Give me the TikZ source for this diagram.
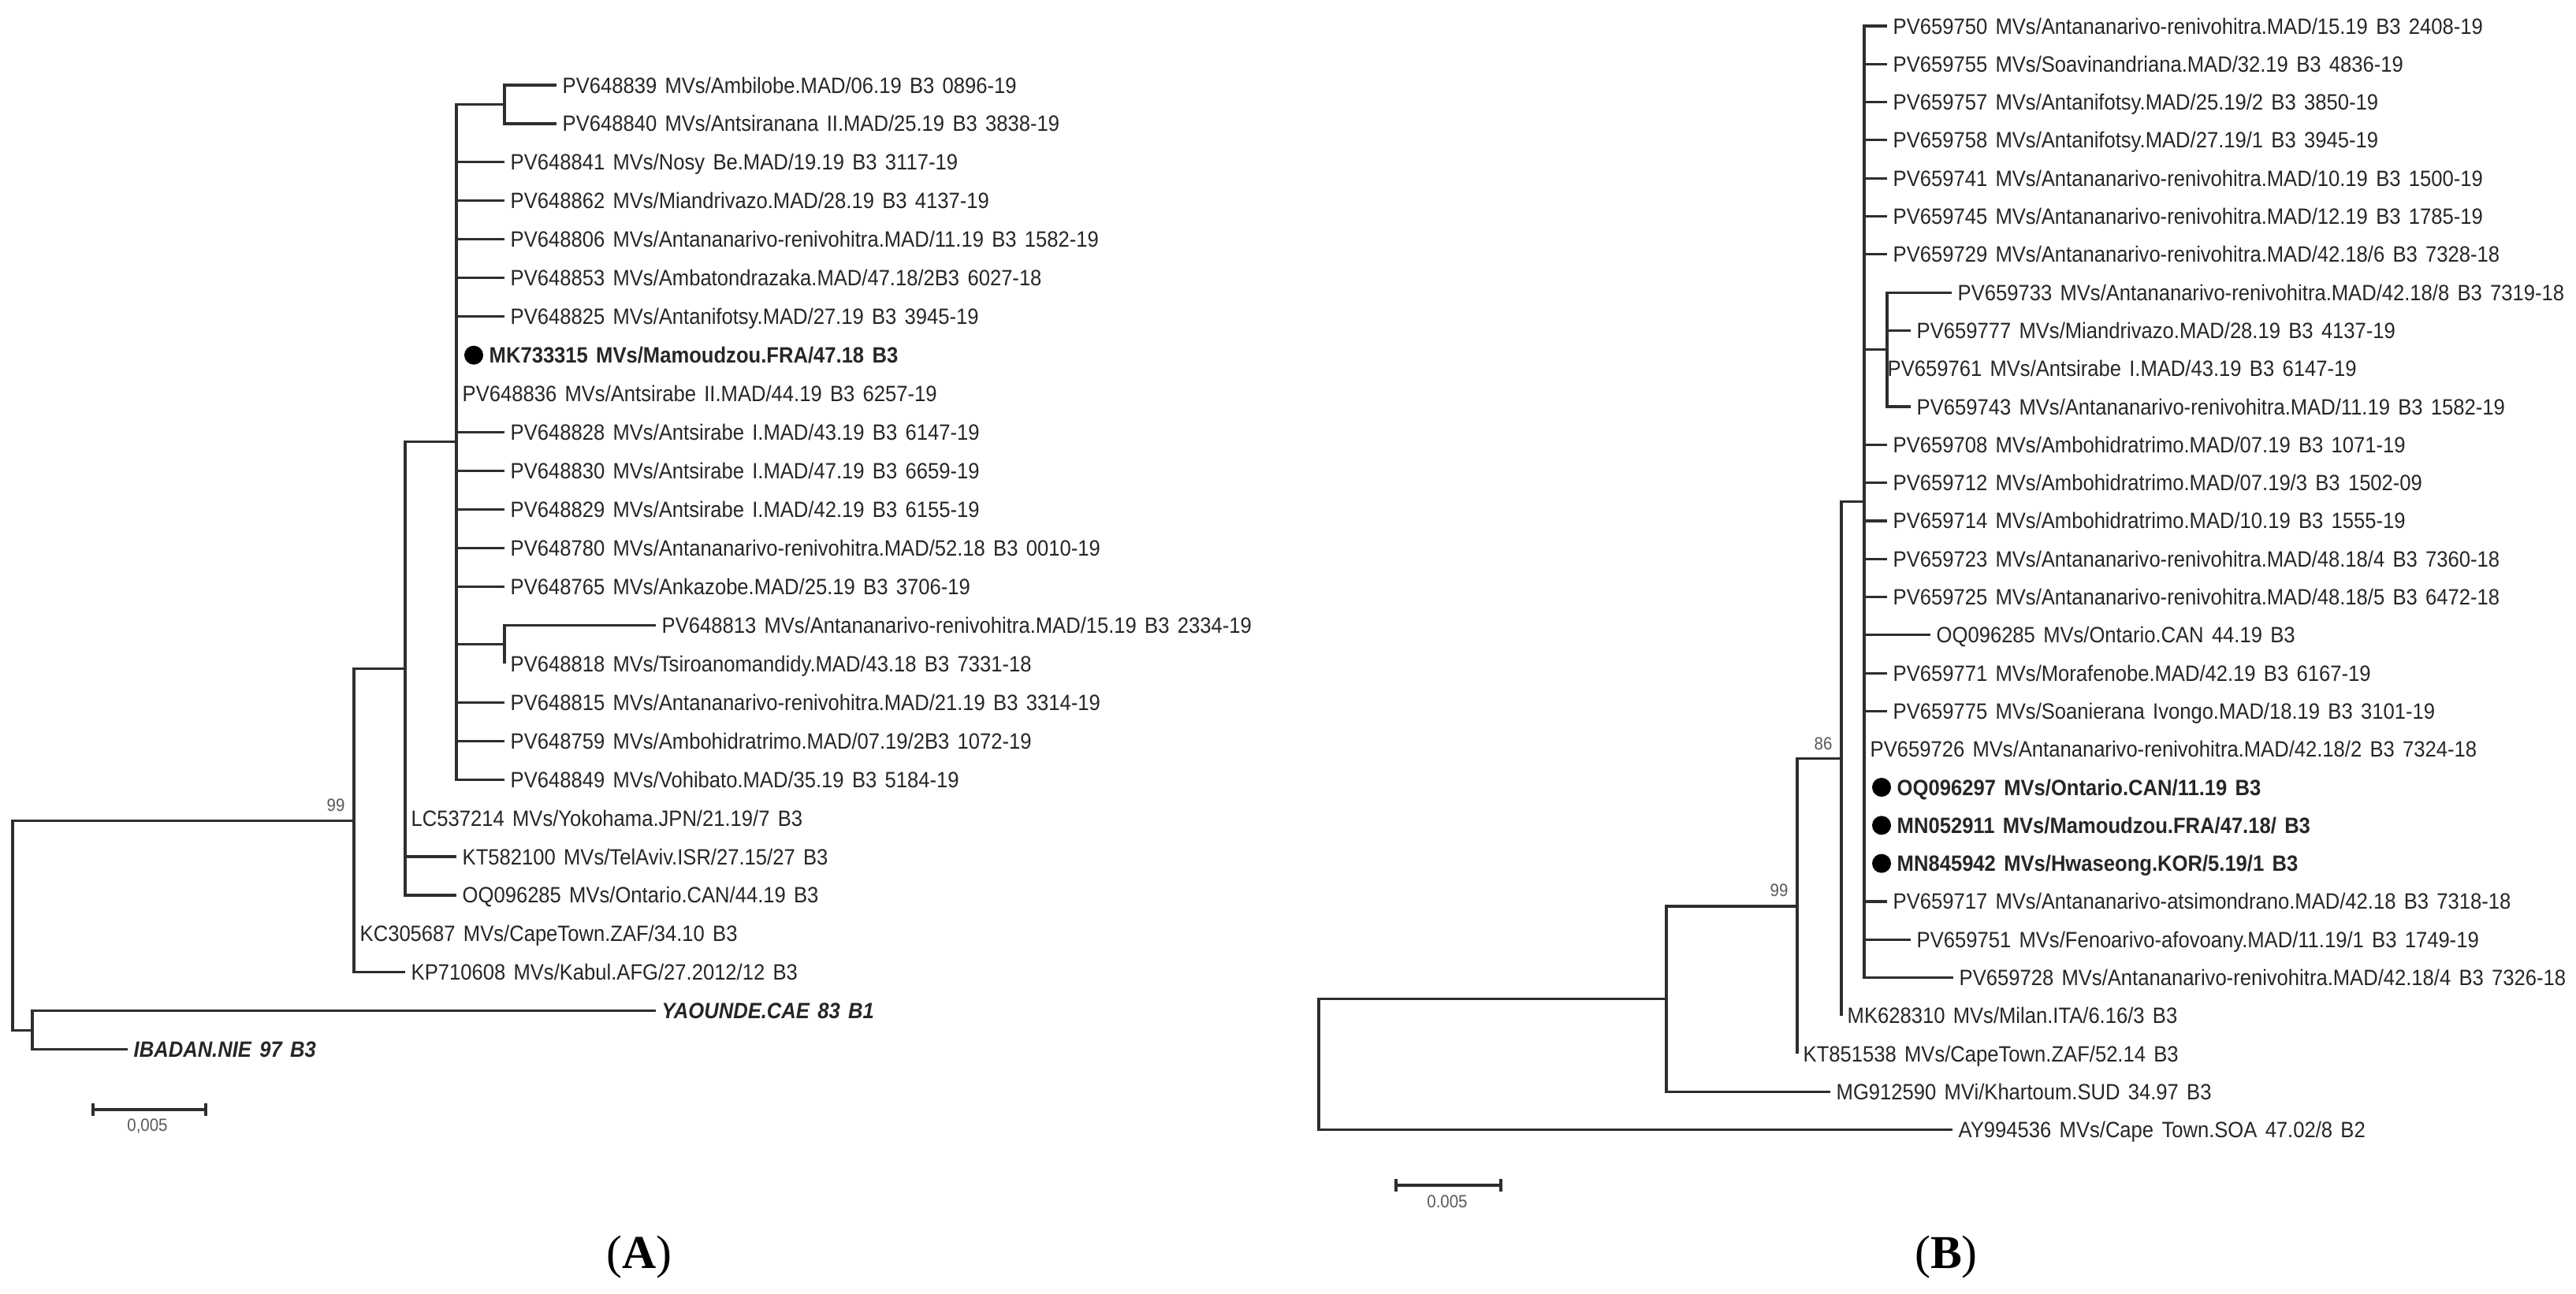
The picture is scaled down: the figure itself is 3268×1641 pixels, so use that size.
\documentclass[tikz,border=0pt]{standalone}
\usepackage{fontspec}
\setmainfont{Liberation Sans}[FakeStretch=0.91,WordSpace=1.45]
\newfontfamily\panelfont{Liberation Serif}
\newcommand\leaf[5]{%
  \coordinate (#1e) at (#3,#4);
  \draw[br] (#2) |- (#1e);
  \node[lab] (#1) at (#1e) {#5};}
\newcommand\dleaf[5]{%
  \coordinate (#1e) at (#3,#4);
  \draw[br] (#2) |- (#1e);
  \node[dotn] (#1d) at ([xshift=0.22cm]#1e) {};
  \node[blab] (#1) at ([xshift=0.34cm]#1e) {#5};}
\begin{document}
\begin{tikzpicture}[x=0.01cm,y=-0.01cm,
  br/.style={line width=0.9pt,draw=black!82},
  lab/.style={anchor=base west,yshift=-0.1cm,inner xsep=0.07cm,inner ysep=0pt,text=black!85,font=\fontsize{8}{9}\selectfont},
  blab/.style={lab,font=\fontsize{8}{9}\selectfont\bfseries},
  dotn/.style={circle,fill=black,inner sep=0pt,minimum size=0.24cm},
  sup/.style={text=black!65,font=\fontsize{6.4}{7}\selectfont,inner sep=0pt},
  ptitle/.style={font=\panelfont\fontsize{17}{20}\selectfont,inner sep=0pt,text=black}]
\useasboundingbox (0,0) rectangle (3268,1641);

% ---------------- Panel A ----------------
\coordinate (rootA) at (16,1174.2);
\coordinate (ogA) at (41,1307.3);
\coordinate (n99A) at (449,1041.1);
\coordinate (n514A) at (514,848.4);
\coordinate (cA) at (579,560.8);
\coordinate (s1A) at (640,132.5);
\coordinate (s2A) at (640,817.8);
\draw[br] (rootA) |- (n99A);
\draw[br] (rootA) |- (ogA);
\draw[br] (n99A) |- (n514A);
\draw[br] (n514A) |- (cA);
\draw[br] (cA) |- (s1A);
\draw[br] (cA) |- (s2A);
\leaf{a0}{s1A}{706}{108}{PV648839 MVs/Ambilobe.MAD/06.19 B3 0896-19}
\leaf{a1}{s1A}{706}{156.95}{PV648840 MVs/Antsiranana II.MAD/25.19 B3 3838-19}
\leaf{a2}{cA}{640}{205.9}{PV648841 MVs/Nosy Be.MAD/19.19 B3 3117-19}
\leaf{a3}{cA}{640}{254.85}{PV648862 MVs/Miandrivazo.MAD/28.19 B3 4137-19}
\leaf{a4}{cA}{640}{303.8}{PV648806 MVs/Antananarivo-renivohitra.MAD/11.19 B3 1582-19}
\leaf{a5}{cA}{640}{352.75}{PV648853 MVs/Ambatondrazaka.MAD/47.18/2B3 6027-18}
\leaf{a6}{cA}{640}{401.7}{PV648825 MVs/Antanifotsy.MAD/27.19 B3 3945-19}
\dleaf{a7}{cA}{579}{450.65}{MK733315 MVs/Mamoudzou.FRA/47.18 B3}
\leaf{a8}{cA}{579}{499.6}{PV648836 MVs/Antsirabe II.MAD/44.19 B3 6257-19}
\leaf{a9}{cA}{640}{548.55}{PV648828 MVs/Antsirabe I.MAD/43.19 B3 6147-19}
\leaf{a10}{cA}{640}{597.5}{PV648830 MVs/Antsirabe I.MAD/47.19 B3 6659-19}
\leaf{a11}{cA}{640}{646.45}{PV648829 MVs/Antsirabe I.MAD/42.19 B3 6155-19}
\leaf{a12}{cA}{640}{695.4}{PV648780 MVs/Antananarivo-renivohitra.MAD/52.18 B3 0010-19}
\leaf{a13}{cA}{640}{744.35}{PV648765 MVs/Ankazobe.MAD/25.19 B3 3706-19}
\leaf{a14}{s2A}{832}{793.3}{PV648813 MVs/Antananarivo-renivohitra.MAD/15.19 B3 2334-19}
\leaf{a15}{s2A}{640}{842.25}{PV648818 MVs/Tsiroanomandidy.MAD/43.18 B3 7331-18}
\leaf{a16}{cA}{640}{891.2}{PV648815 MVs/Antananarivo-renivohitra.MAD/21.19 B3 3314-19}
\leaf{a17}{cA}{640}{940.15}{PV648759 MVs/Ambohidratrimo.MAD/07.19/2B3 1072-19}
\leaf{a18}{cA}{640}{989.1}{PV648849 MVs/Vohibato.MAD/35.19 B3 5184-19}
\leaf{a19}{n514A}{514}{1038.05}{LC537214 MVs/Yokohama.JPN/21.19/7 B3}
\leaf{a20}{n514A}{579}{1087}{KT582100 MVs/TelAviv.ISR/27.15/27 B3}
\leaf{a21}{n514A}{579}{1135.95}{OQ096285 MVs/Ontario.CAN/44.19 B3}
\leaf{a22}{n99A}{449}{1184.9}{KC305687 MVs/CapeTown.ZAF/34.10 B3}
\leaf{a23}{n99A}{514}{1233.85}{KP710608 MVs/Kabul.AFG/27.2012/12 B3}
\leaf{a24}{ogA}{832}{1282.8}{\textbf{\textit{YAOUNDE.CAE 83 B1}}}
\leaf{a25}{ogA}{162}{1331.75}{\textbf{\textit{IBADAN.NIE 97 B3}}}
\node[sup] (bsA) at (426,1022) {99};
\coordinate (sbA1) at (118,1408);
\coordinate (sbA2) at (261,1408);
\draw[br] (sbA1) -- (sbA2);
\draw[br] ([yshift=0.08cm]sbA1) -- ([yshift=-0.08cm]sbA1);
\draw[br] ([yshift=0.08cm]sbA2) -- ([yshift=-0.08cm]sbA2);
\node[sup] (sbAl) at (187,1429) {0,005};
\node[ptitle] (tA) at (811,1595) {(\textbf{A})};

% ---------------- Panel B ----------------
\coordinate (rootB) at (1673,1350.7);
\coordinate (nX) at (2114,1267.7);
\coordinate (n99B) at (2280,1149.95);
\coordinate (n86) at (2336,962.8);
\coordinate (cB) at (2365,636.75);
\coordinate (sB) at (2394,443.55);
\draw[br] (rootB) |- (nX);
\draw[br] (nX) |- (n99B);
\draw[br] (n99B) |- (n86);
\draw[br] (n86) |- (cB);
\draw[br] (cB) |- (sB);
\leaf{b0}{cB}{2394}{33}{PV659750 MVs/Antananarivo-renivohitra.MAD/15.19 B3 2408-19}
\leaf{b1}{cB}{2394}{81.3}{PV659755 MVs/Soavinandriana.MAD/32.19 B3 4836-19}
\leaf{b2}{cB}{2394}{129.6}{PV659757 MVs/Antanifotsy.MAD/25.19/2 B3 3850-19}
\leaf{b3}{cB}{2394}{177.9}{PV659758 MVs/Antanifotsy.MAD/27.19/1 B3 3945-19}
\leaf{b4}{cB}{2394}{226.2}{PV659741 MVs/Antananarivo-renivohitra.MAD/10.19 B3 1500-19}
\leaf{b5}{cB}{2394}{274.5}{PV659745 MVs/Antananarivo-renivohitra.MAD/12.19 B3 1785-19}
\leaf{b6}{cB}{2394}{322.8}{PV659729 MVs/Antananarivo-renivohitra.MAD/42.18/6 B3 7328-18}
\leaf{b7}{sB}{2476}{371.1}{PV659733 MVs/Antananarivo-renivohitra.MAD/42.18/8 B3 7319-18}
\leaf{b8}{sB}{2424}{419.4}{PV659777 MVs/Miandrivazo.MAD/28.19 B3 4137-19}
\coordinate (b9e) at (2394,467.7);
\draw[br] (sB) |- (b9e);
\node[lab,xshift=-0.07cm] (b9) at (b9e) {PV659761 MVs/Antsirabe I.MAD/43.19 B3 6147-19};
\leaf{b10}{sB}{2424}{516}{PV659743 MVs/Antananarivo-renivohitra.MAD/11.19 B3 1582-19}
\leaf{b11}{cB}{2394}{564.3}{PV659708 MVs/Ambohidratrimo.MAD/07.19 B3 1071-19}
\leaf{b12}{cB}{2394}{612.6}{PV659712 MVs/Ambohidratrimo.MAD/07.19/3 B3 1502-09}
\leaf{b13}{cB}{2394}{660.9}{PV659714 MVs/Ambohidratrimo.MAD/10.19 B3 1555-19}
\leaf{b14}{cB}{2394}{709.2}{PV659723 MVs/Antananarivo-renivohitra.MAD/48.18/4 B3 7360-18}
\leaf{b15}{cB}{2394}{757.5}{PV659725 MVs/Antananarivo-renivohitra.MAD/48.18/5 B3 6472-18}
\leaf{b16}{cB}{2449}{805.8}{OQ096285 MVs/Ontario.CAN 44.19 B3}
\leaf{b17}{cB}{2394}{854.1}{PV659771 MVs/Morafenobe.MAD/42.19 B3 6167-19}
\leaf{b18}{cB}{2394}{902.4}{PV659775 MVs/Soanierana Ivongo.MAD/18.19 B3 3101-19}
\leaf{b19}{cB}{2365}{950.7}{PV659726 MVs/Antananarivo-renivohitra.MAD/42.18/2 B3 7324-18}
\dleaf{b20}{cB}{2365}{999}{OQ096297 MVs/Ontario.CAN/11.19 B3}
\dleaf{b21}{cB}{2365}{1047.3}{MN052911 MVs/Mamoudzou.FRA/47.18/ B3}
\dleaf{b22}{cB}{2365}{1095.6}{MN845942 MVs/Hwaseong.KOR/5.19/1 B3}
\leaf{b23}{cB}{2394}{1143.9}{PV659717 MVs/Antananarivo-atsimondrano.MAD/42.18 B3 7318-18}
\leaf{b24}{cB}{2424}{1192.2}{PV659751 MVs/Fenoarivo-afovoany.MAD/11.19/1 B3 1749-19}
\leaf{b25}{cB}{2478}{1240.5}{PV659728 MVs/Antananarivo-renivohitra.MAD/42.18/4 B3 7326-18}
\leaf{b26}{n86}{2336}{1288.8}{MK628310 MVs/Milan.ITA/6.16/3 B3}
\leaf{b27}{n99B}{2280}{1337.1}{KT851538 MVs/CapeTown.ZAF/52.14 B3}
\leaf{b28}{nX}{2322}{1385.4}{MG912590 MVi/Khartoum.SUD 34.97 B3}
\leaf{b29}{rootB}{2477}{1433.7}{AY994536 MVs/Cape Town.SOA 47.02/8 B2}
\node[sup] (bs99B) at (2257,1130) {99};
\node[sup] (bs86) at (2313,944) {86};
\coordinate (sbB1) at (1771,1504);
\coordinate (sbB2) at (1904,1504);
\draw[br] (sbB1) -- (sbB2);
\draw[br] ([yshift=0.08cm]sbB1) -- ([yshift=-0.08cm]sbB1);
\draw[br] ([yshift=0.08cm]sbB2) -- ([yshift=-0.08cm]sbB2);
\node[sup] (sbBl) at (1836,1525) {0.005};
\node[ptitle] (tB) at (2469,1595) {(\textbf{B})};
\end{tikzpicture}
\end{document}
